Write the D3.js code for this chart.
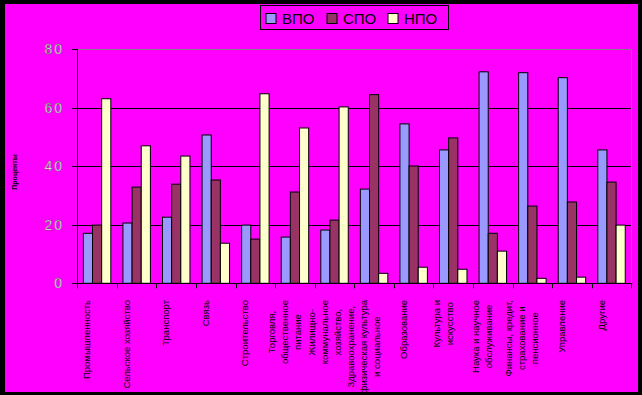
<!DOCTYPE html>
<html lang="ru">
<head>
    <meta charset="UTF-8">
    <title>ВПО / СПО / НПО по отраслям</title>
    <script src="https://d3js.org/d3.v7.min.js"></script>
    <style>
        body { margin: 0; background: #000; }
        svg { display: block; }
        text { font-family: "Liberation Sans", Arial, sans-serif; }
        .bar { stroke: #000; stroke-width: 1px; }
        .grid { stroke: #000; stroke-width: 1px; }
        .ytick { font-size: 14px; fill: #fff; stroke: #444; stroke-width: 0.4px; letter-spacing: 2px; }
        .xlab { font-size: 9.5px; fill: #000; }
    </style>
</head>
<body>
    <script>
        // Categories (lines of each rotated label)
        var categories = [
            ["Промышленность"],
            ["Сельское хозяйство"],
            ["Транспорт"],
            ["Связь"],
            ["Строительство"],
            ["Торговля,", "общественное", "питание"],
            ["Жилищно-", "коммунальное", "хозяйство,"],
            ["Здравоохранение,", "физическая культура", "и социальное"],
            ["Образование"],
            ["Культура и", "искусство"],
            ["Наука и научное", "обслуживание"],
            ["Финансы, кредит,", "страхование и", "пенсионное"],
            ["Управление"],
            ["Другие"]
        ];

        var seriesNames = ["ВПО", "СПО", "НПО"];
        var seriesColors = ["#9999ff", "#993366", "#ffffcc"];

        var vpo = [17.1, 20.6, 22.6, 50.7, 19.9, 15.8, 18.2, 32.2, 54.5, 45.6, 72.3, 72.0, 70.3, 45.6];
        var spo = [19.9, 32.9, 33.9, 35.3, 15.1, 31.2, 21.6, 64.5, 40.1, 49.7, 17.1, 26.4, 27.8, 34.6];
        var npo = [63.1, 47.0, 43.5, 13.7, 64.8, 53.1, 60.3, 3.4, 5.5, 4.8, 11.0, 1.7, 2.1, 19.9];

        var yTicks = [0, 20, 40, 60, 80];
        var yTitle = "Проценты";

        var series = [vpo, spo, npo];

        var W = 642, H = 395;
        var plot = {left: 77.3, right: 631.3, top: 49.3, bottom: 283.3};

        var svg = d3.select("body").append("svg")
            .attr("width", W)
            .attr("height", H);

        // Magenta chart area inside a black frame
        svg.append("rect")
            .attr("x", 5).attr("y", 4)
            .attr("width", 633).attr("height", 388)
            .attr("fill", "#ff00ff");

        var x = d3.scaleBand()
            .domain(d3.range(categories.length))
            .range([plot.left, plot.right]);

        // bars take ~70% of each category
        var bw = x.bandwidth();
        var pad = bw * 0.153;
        var xs = d3.scaleBand()
            .domain(d3.range(series.length))
            .range([pad, bw - pad]);

        var y = d3.scaleLinear()
            .domain([0, 80])
            .range([plot.bottom, plot.top]);

        // Gridlines
        svg.selectAll(".grid")
            .data(yTicks.filter(function(d) { return d > 0 && d < 80; }))
            .enter().append("line")
            .attr("class", "grid")
            .attr("x1", plot.left).attr("x2", plot.right)
            .attr("y1", function(d) { return Math.round(y(d)) + 0.5; })
            .attr("y2", function(d) { return Math.round(y(d)) + 0.5; });

        // Plot area border (top and right, grey)
        svg.append("path")
            .attr("d", "M" + plot.left + "," + (Math.round(plot.top) + 0.5) +
                "H" + (Math.round(plot.right) + 0.5) + "V" + plot.bottom)
            .attr("fill", "none")
            .attr("stroke", "#808080");

        // Bars
        var groups = svg.selectAll(".cat")
            .data(categories)
            .enter().append("g")
            .attr("class", "cat")
            .attr("transform", function(d, i) { return "translate(" + x(i) + ",0)"; });

        groups.selectAll("rect")
            .data(function(d, i) { return series.map(function(s, j) { return {s: j, v: s[i]}; }); })
            .enter().append("rect")
            .attr("class", "bar")
            .attr("x", function(d) { return xs(d.s); })
            .attr("width", xs.bandwidth())
            .attr("y", function(d) { return y(d.v); })
            .attr("height", function(d) { return plot.bottom - y(d.v); })
            .attr("fill", function(d) { return seriesColors[d.s]; });

        // Y axis
        var yAxis = svg.append("g")
            .attr("transform", "translate(" + Math.round(plot.left) + ",0)");
        yAxis.append("line")
            .attr("x1", 0.5).attr("x2", 0.5)
            .attr("y1", plot.top).attr("y2", plot.bottom + 3)
            .attr("stroke", "#000");
        yAxis.selectAll(".yt")
            .data(yTicks)
            .enter().append("line")
            .attr("x1", -5).attr("x2", 0.5)
            .attr("y1", function(d) { return Math.round(y(d)) + 0.5; })
            .attr("y2", function(d) { return Math.round(y(d)) + 0.5; })
            .attr("stroke", "#000");
        yAxis.selectAll(".ytick")
            .data(yTicks)
            .enter().append("text")
            .attr("class", "ytick")
            .attr("x", -13)
            .attr("y", function(d) { return y(d) + 5; })
            .attr("text-anchor", "end")
            .text(function(d) { return d; });

        // Y title
        svg.append("text")
            .attr("transform", "translate(17,172) rotate(-90)")
            .attr("text-anchor", "middle")
            .attr("font-size", "7px")
            .attr("font-weight", "bold")
            .attr("fill", "#000")
            .text(yTitle);

        // X axis
        svg.append("line")
            .attr("x1", plot.left).attr("x2", plot.right + 1)
            .attr("y1", Math.round(plot.bottom) + 0.5).attr("y2", Math.round(plot.bottom) + 0.5)
            .attr("stroke", "#000");
        svg.selectAll(".xt")
            .data(d3.range(categories.length + 1))
            .enter().append("line")
            .attr("x1", function(d) { return Math.round(plot.left + d * bw) + 0.5; })
            .attr("x2", function(d) { return Math.round(plot.left + d * bw) + 0.5; })
            .attr("y1", plot.bottom).attr("y2", plot.bottom + 5)
            .attr("stroke", "#000");

        // Rotated category labels: longest line starts just below axis, lines centred
        var labelTop = 300, lineGap = 13;
        categories.forEach(function(lines, i) {
            var g = svg.append("g");
            var cx = x(i) + bw / 2 - 10;
            var texts = lines.map(function(t, k) {
                return g.append("text")
                    .attr("class", "xlab")
                    .attr("text-anchor", "middle")
                    .text(t);
            });
            var maxW = d3.max(texts, function(t) { return t.node().getComputedTextLength(); });
            var cy = labelTop + maxW / 2;
            texts.forEach(function(t, k) {
                var lx = cx + (k - (lines.length - 1) / 2) * lineGap + 3;
                t.attr("transform", "translate(" + lx + "," + cy + ") rotate(-90)");
            });
        });

        // Legend
        var lg = svg.append("g").attr("transform", "translate(260.5,5.5)");
        lg.append("rect")
            .attr("width", 188).attr("height", 24)
            .attr("fill", "none").attr("stroke", "#000");
        var legendX = [5.5, 66.5, 127.5];
        seriesNames.forEach(function(n, i) {
            lg.append("rect")
                .attr("x", legendX[i]).attr("y", 8)
                .attr("width", 10).attr("height", 10)
                .attr("fill", seriesColors[i])
                .attr("stroke", "#000");
            lg.append("text")
                .attr("x", legendX[i] + 16).attr("y", 18.5)
                .attr("font-size", "15px")
                .attr("fill", "#000")
                .text(n);
        });
    </script>
</body>
</html>
